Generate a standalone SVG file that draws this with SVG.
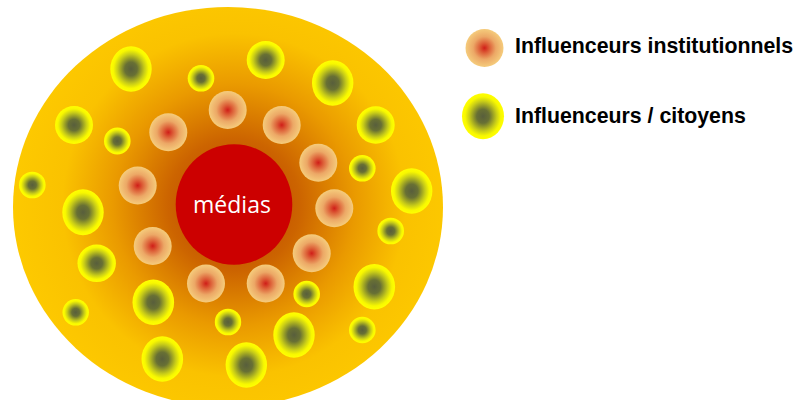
<svg xmlns="http://www.w3.org/2000/svg" width="799" height="400" viewBox="0 0 799 400">
<defs>
<radialGradient id="bg" gradientUnits="userSpaceOnUse" cx="234" cy="205" r="220">
<stop offset="0" stop-color="#b83c00"/>
<stop offset="0.3" stop-color="#cc6400"/>
<stop offset="0.55" stop-color="#ea9a00"/>
<stop offset="0.78" stop-color="#fac200"/>
<stop offset="1" stop-color="#fdc900"/>
</radialGradient>
<radialGradient id="inst">
<stop offset="0" stop-color="#d01e18"/>
<stop offset="0.25" stop-color="#dc5c36"/>
<stop offset="0.6" stop-color="#eca866"/>
<stop offset="1" stop-color="#f5cc7c"/>
</radialGradient>
<radialGradient id="cit">
<stop offset="0" stop-color="#585e3c"/>
<stop offset="0.3" stop-color="#687034"/>
<stop offset="0.65" stop-color="#c8cc18"/>
<stop offset="0.85" stop-color="#f8f800"/>
<stop offset="1" stop-color="#ffff00"/>
</radialGradient>
</defs>
<style>
.i{fill:url(#inst)}
.c{fill:url(#cit)}
.lg{font-family:"Liberation Sans",Arial,sans-serif;font-weight:bold;font-size:21.3px;fill:#000}
.m{font-family:"Open Sans","Noto Sans",sans-serif;font-size:23px;fill:#fff}
</style>
<g id="background">
<ellipse cx="228" cy="207" rx="215" ry="200" fill="url(#bg)"/>
</g>
<g id="citizens">
<ellipse class="c" cx="131" cy="69" rx="20.7" ry="22.8"/>
<ellipse class="c" cx="201" cy="78.3" rx="13.3" ry="13.3"/>
<ellipse class="c" cx="265.7" cy="60" rx="19" ry="19"/>
<ellipse class="c" cx="332.7" cy="83" rx="20.7" ry="22.7"/>
<ellipse class="c" cx="74" cy="125" rx="19" ry="19"/>
<ellipse class="c" cx="117.3" cy="141" rx="13.3" ry="13.4"/>
<ellipse class="c" cx="375.7" cy="125" rx="19" ry="18.8"/>
<ellipse class="c" cx="362.3" cy="168.3" rx="13.3" ry="13.3"/>
<ellipse class="c" cx="32.3" cy="185" rx="13.3" ry="13.3"/>
<ellipse class="c" cx="83" cy="212.3" rx="20.7" ry="23"/>
<ellipse class="c" cx="411.7" cy="191" rx="20.7" ry="22.7"/>
<ellipse class="c" cx="390.7" cy="231" rx="13.3" ry="13.3"/>
<ellipse class="c" cx="96.7" cy="263.3" rx="19.2" ry="18.8"/>
<ellipse class="c" cx="153.3" cy="302.3" rx="20.8" ry="22.7"/>
<ellipse class="c" cx="374.3" cy="286.7" rx="20.8" ry="22.7"/>
<ellipse class="c" cx="306.7" cy="294" rx="13.3" ry="13.2"/>
<ellipse class="c" cx="75.7" cy="312.3" rx="13.2" ry="13.3"/>
<ellipse class="c" cx="228" cy="322" rx="13.2" ry="13.3"/>
<ellipse class="c" cx="294" cy="335" rx="20.7" ry="22.7"/>
<ellipse class="c" cx="362.3" cy="330" rx="13.3" ry="13.2"/>
<ellipse class="c" cx="162.3" cy="359" rx="20.8" ry="22.8"/>
<ellipse class="c" cx="246.3" cy="365" rx="20.7" ry="22.7"/>
</g>
<g id="institutionnels">
<circle class="i" cx="227.7" cy="110" r="19"/>
<circle class="i" cx="281.7" cy="125" r="19"/>
<circle class="i" cx="168.3" cy="132.3" r="19"/>
<circle class="i" cx="318.3" cy="162.7" r="19"/>
<circle class="i" cx="137.7" cy="185.5" r="19"/>
<circle class="i" cx="334.3" cy="208.3" r="19"/>
<circle class="i" cx="152.7" cy="246" r="19"/>
<circle class="i" cx="311.7" cy="253.3" r="19"/>
<circle class="i" cx="206" cy="283.5" r="19"/>
<circle class="i" cx="265.7" cy="283.5" r="19"/>
</g>
<g id="medias">
<ellipse cx="234" cy="204.5" rx="58.3" ry="60.3" fill="#cc0000"/>
<text class="m" x="232" y="213" text-anchor="middle">médias</text>
</g>
<g id="legend-institutionnels">
<circle class="i" cx="484.5" cy="48" r="19"/>
<text class="lg" x="515" y="53.3">Influenceurs institutionnels</text>
</g>
<g id="legend-citoyens">
<ellipse class="c" cx="483" cy="116.3" rx="21" ry="23"/>
<text class="lg" x="515" y="123.3">Influenceurs / citoyens</text>
</g>
<g id="connectors"/>
</svg>
